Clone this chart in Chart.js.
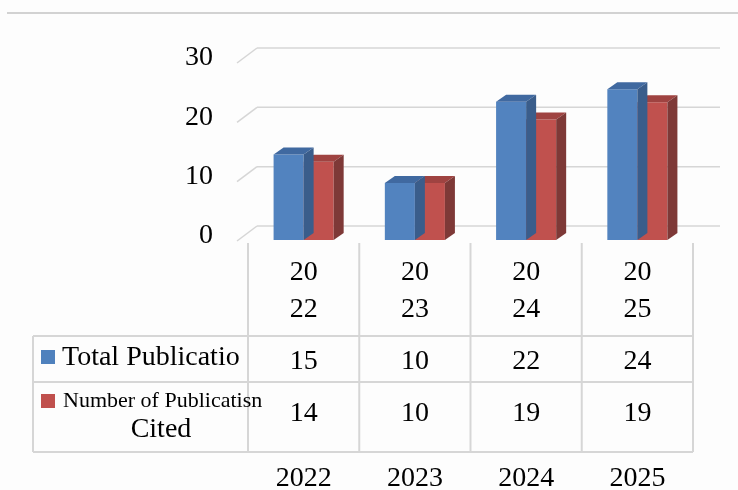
<!DOCTYPE html>
<html>
<head>
<meta charset="utf-8">
<script src="https://cdn.jsdelivr.net/npm/chart.js@4/dist/chart.umd.min.js"></script>
<style>
  body { margin: 0; background: #fdfdfd; }
  #wrap { width: 738px; height: 490px; position: relative; }
</style>
</head>
<body>
<div id="wrap"><canvas id="pubChart"></canvas></div>
<script>
// Years along the x axis
var categories = ['2022', '2023', '2024', '2025'];
// Bar heights as they are drawn in the picture
var totalPublications = [14.4, 9.6, 23.3, 25.4];
var citedPublications = [13.2, 9.6, 20.3, 23.2];
// Numbers printed in the data table under the bars
var tableTotal = ['15', '10', '22', '24'];
var tableCited = ['14', '10', '19', '19'];
// Value axis ticks
var yTicks = [0, 10, 20, 30];
// Series names shown in the table
var seriesTotal = 'Total Publicatio';
var seriesCited = ['Number of Publicatisn', 'Cited'];

var SERIF = '"Liberation Serif", "Times New Roman", serif';
var depthX = 10, depthY = 7;
var lineGrey = '#d6d6d6';

function line(ctx, x1, y1, x2, y2) {
    ctx.beginPath();
    ctx.moveTo(x1, y1);
    ctx.lineTo(x2, y2);
    ctx.stroke();
}

// Top and side faces of the 3D bars
function drawFaces(chart, index, topColor, sideColor) {
    var ctx = chart.ctx;
    chart.getDatasetMeta(index).data.forEach(function (bar) {
        var p = bar.getProps(['x', 'y', 'base', 'width'], true);
        var l = p.x - p.width / 2;
        var r = p.x + p.width / 2;
        ctx.fillStyle = topColor;
        ctx.beginPath();
        ctx.moveTo(l, p.y);
        ctx.lineTo(l + depthX, p.y - depthY);
        ctx.lineTo(r + depthX, p.y - depthY);
        ctx.lineTo(r, p.y);
        ctx.closePath();
        ctx.fill();
        ctx.fillStyle = sideColor;
        ctx.beginPath();
        ctx.moveTo(r, p.y);
        ctx.lineTo(r + depthX, p.y - depthY);
        ctx.lineTo(r + depthX, p.base - depthY);
        ctx.lineTo(r, p.base);
        ctx.closePath();
        ctx.fill();
    });
}

var wallPlugin = {
    id: 'wall',
    beforeDatasetsDraw: function (chart) {
        var ctx = chart.ctx;
        var area = chart.chartArea;
        var yScale = chart.scales.y;
        ctx.save();
        // top border line of the picture
        ctx.strokeStyle = '#d2d2d2';
        ctx.lineWidth = 2;
        line(ctx, 7, 13, 738, 13);
        // back wall gridlines and side wall edges
        ctx.strokeStyle = lineGrey;
        ctx.lineWidth = 1.5;
        yTicks.forEach(function (v) {
            var y = yScale.getPixelForValue(v);
            line(ctx, area.left - 11, y + 1, area.left + 9, y - 14);
            line(ctx, area.left + 9, y - 14, area.right + 27, y - 14);
        });
        ctx.restore();
    },
    afterDatasetDraw: function (chart, args) {
        if (args.index === 0) {
            drawFaces(chart, 0, '#4069a0', '#3a5d8b');
        } else {
            drawFaces(chart, 1, '#9f4341', '#7e3937');
        }
    },
    afterDraw: function (chart) {
        var ctx = chart.ctx;
        var xScale = chart.scales.x;
        var band = xScale.width / categories.length;
        var tableLeft = 33;
        var tableRight = xScale.right;
        var rowTop = 336, rowMid = 382, rowBottom = 452;
        ctx.save();
        ctx.strokeStyle = lineGrey;
        ctx.lineWidth = 2;
        // column lines
        for (var i = 0; i <= categories.length; i++) {
            var x = xScale.left + band * i;
            line(ctx, x, 243, x, rowBottom);
        }
        line(ctx, tableLeft, rowTop, tableLeft, rowBottom);
        line(ctx, tableLeft, rowTop, tableRight, rowTop);
        line(ctx, tableLeft, rowMid, tableRight, rowMid);
        line(ctx, tableLeft, rowBottom, tableRight, rowBottom);

        ctx.fillStyle = '#000';
        ctx.textBaseline = 'alphabetic';
        ctx.textAlign = 'center';
        ctx.font = '28px ' + SERIF;
        categories.forEach(function (year, i) {
            var cx = xScale.getPixelForValue(i);
            ctx.fillText(year.slice(0, 2), cx, 280);
            ctx.fillText(year.slice(2), cx, 317);
            ctx.fillText(tableTotal[i], cx, 369);
            ctx.fillText(tableCited[i], cx, 421);
            ctx.fillText(year, cx, 486);
        });

        // series keys
        ctx.fillStyle = '#4f81bd';
        ctx.fillRect(41, 350, 14, 14);
        ctx.fillStyle = '#c0504d';
        ctx.fillRect(41, 394, 14, 14);
        ctx.fillStyle = '#000';
        ctx.textAlign = 'left';
        ctx.font = '28px ' + SERIF;
        ctx.fillText(seriesTotal, 62, 365);
        ctx.font = '22px ' + SERIF;
        ctx.fillText(seriesCited[0], 63, 407);
        ctx.textAlign = 'center';
        ctx.font = '28px ' + SERIF;
        ctx.fillText(seriesCited[1], 161, 437);
        ctx.restore();
    }
};

new Chart(document.getElementById('pubChart'), {
    type: 'bar',
    data: {
        labels: categories,
        datasets: [
            {
                label: seriesTotal,
                data: totalPublications,
                backgroundColor: '#5283bf',
                categoryPercentage: 0.54,
                barPercentage: 1.0
            },
            {
                label: seriesCited.join(' '),
                data: citedPublications,
                backgroundColor: '#c0514e',
                categoryPercentage: 0.54,
                barPercentage: 1.0
            }
        ]
    },
    options: {
        responsive: true,
        maintainAspectRatio: false,
        animation: false,
        layout: { padding: { top: 62, bottom: 250, right: 45, left: 0 } },
        plugins: {
            legend: { display: false },
            tooltip: { enabled: false }
        },
        scales: {
            x: { display: false },
            y: {
                min: 0,
                max: 30,
                afterFit: function (scale) { scale.width = 248; },
                grid: { display: false, drawTicks: false },
                border: { display: false },
                ticks: {
                    stepSize: 10,
                    padding: 35,
                    labelOffset: -4,
                    color: '#000',
                    font: { family: SERIF, size: 28 }
                }
            }
        }
    },
    plugins: [wallPlugin]
});
</script>
</body>
</html>
